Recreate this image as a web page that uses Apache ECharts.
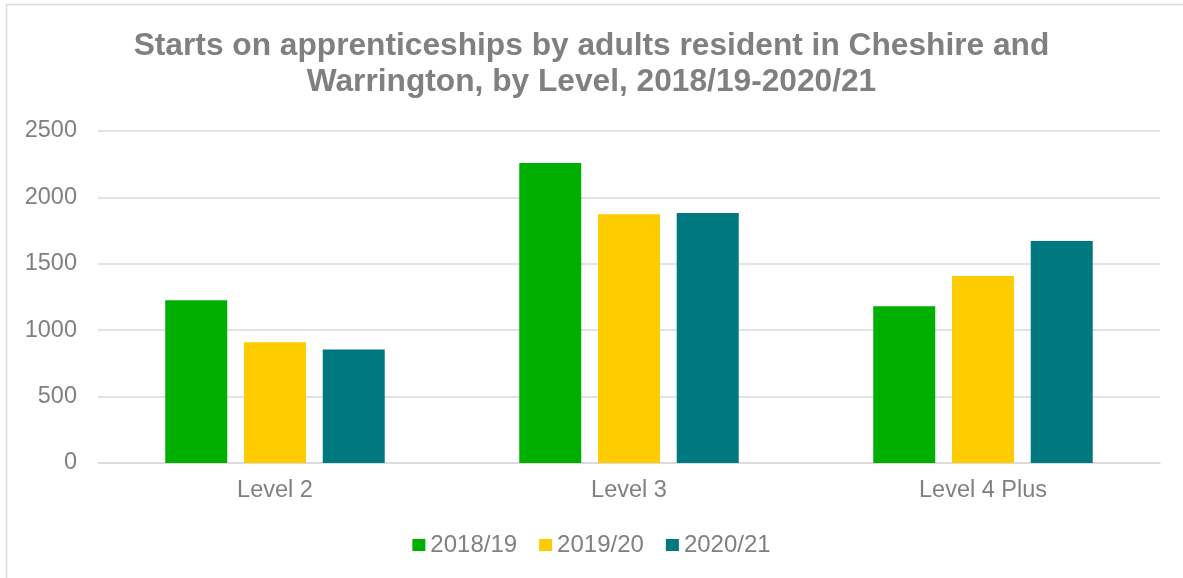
<!DOCTYPE html>
<html><head><meta charset="utf-8">
<script src="https://cdn.jsdelivr.net/npm/echarts@6/dist/echarts.min.js"></script>
<style>html,body{margin:0;padding:0;background:#fff}#c{width:1183px;height:578px}</style>
</head><body><div id="c"></div>
<script>
const categories = ['Level 2', 'Level 3', 'Level 4 Plus'];
const seriesNames = ['2018/19', '2019/20', '2020/21'];
const s2018 = [1226, 2259, 1181];
const s2019 = [910, 1874, 1409];
const s2020 = [855, 1882, 1671];
const colors = ['#00B000', '#FFCC00', '#007880'];
const yTicks = [0, 500, 1000, 1500, 2000, 2500];

const chart = echarts.init(document.getElementById('c'));
const values = [s2018, s2019, s2020];
const FONT = 'Liberation Sans, Arial';
chart.setOption({
  animation: false,
  graphic: [{
    type: 'rect', shape: {x: 6.5, y: 4.5, width: 1200, height: 600},
    style: {fill: 'none', stroke: '#d9d9d9', lineWidth: 1.5}
  }],
  title: {
    text: 'Starts on apprenticeships by adults resident in Cheshire and\nWarrington, by Level, 2018/19-2020/21',
    left: 'center', top: 23,
    textStyle: {fontFamily: FONT, fontSize: 31.7, fontWeight: 'bold', color: '#808080', lineHeight: 36}
  },
  legend: {
    data: seriesNames, top: 528, left: 'center',
    icon: 'rect', itemWidth: 13, itemHeight: 12, itemGap: 22,
    textStyle: {fontFamily: FONT, fontSize: 24, color: '#808080'}
  },
  grid: {left: 98, right: 23, top: 131, bottom: 115, containLabel: false},
  xAxis: {
    type: 'category', data: categories,
    axisLine: {lineStyle: {color: '#d9d9d9', width: 1.5}},
    axisTick: {show: false},
    axisLabel: {fontFamily: FONT, fontSize: 23.5, color: '#808080', margin: 16}
  },
  yAxis: {
    type: 'value', min: yTicks[0], max: yTicks[yTicks.length-1], interval: 500,
    axisLine: {show: false}, axisTick: {show: false},
    splitLine: {lineStyle: {color: '#d9d9d9', width: 1.5}},
    axisLabel: {fontFamily: FONT, fontSize: 23.5, color: '#808080', margin: 21, formatter: v => String(v)}
  },
  series: seriesNames.map((n, i) => ({
    name: n, type: 'bar', data: values[i],
    itemStyle: {color: colors[i]},
    barGap: '27%', barCategoryGap: '38%'
  }))
});
</script></body></html>
